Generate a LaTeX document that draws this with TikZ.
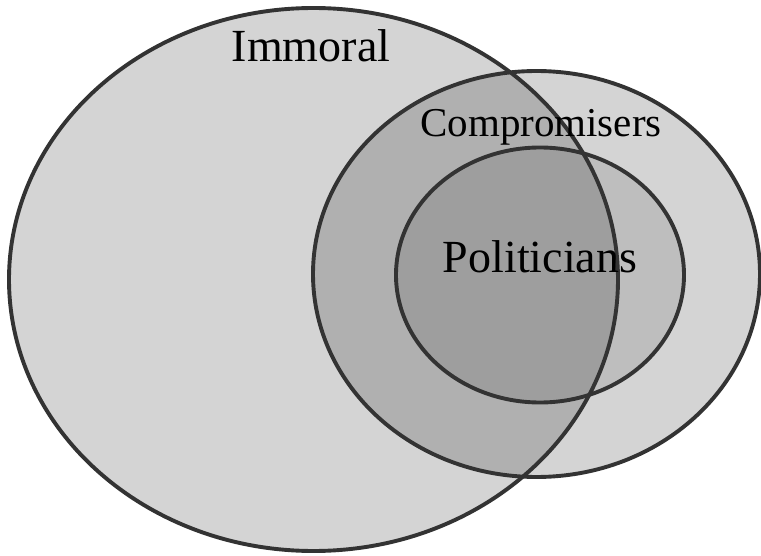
\documentclass[tikz,border=0pt]{standalone}
\usepackage{fontspec}
\setmainfont{Liberation Serif}
\begin{document}
\begin{tikzpicture}[x=1pt,y=-1pt,
  setfill/.style={fill=black,fill opacity=0.17},
  setline/.style={draw=black!80,line width=3.9pt},
  setlabel/.style={anchor=base,inner sep=0pt,text=black}]
\useasboundingbox (0,0) rectangle (761,556);
\fill[white] (0,0) rectangle (761,556);
% fills
\fill[setfill] (313.5,279.5) ellipse [x radius=304.5, y radius=271.5];
\fill[setfill] (536.5,274) ellipse [x radius=223.5, y radius=203];
\fill[setfill,fill opacity=0.10] (540,275) ellipse [x radius=144, y radius=127.5];
% outlines
\draw[setline] (313.5,279.5) ellipse [x radius=304.5, y radius=271.5];
\draw[setline] (536.5,274) ellipse [x radius=223.5, y radius=203];
\draw[setline] (540,275) ellipse [x radius=144, y radius=127.5];
% labels
\node[setlabel,font=\fontsize{46}{50}\selectfont] (immoral) at (311,61.5) {Immoral};
\node[setlabel,font=\fontsize{41}{45}\selectfont] (comp) at (541,137) {Compromisers};
\node[setlabel,font=\fontsize{46}{50}\selectfont] (pol) at (540,273) {Politicians};
\end{tikzpicture}
\end{document}
